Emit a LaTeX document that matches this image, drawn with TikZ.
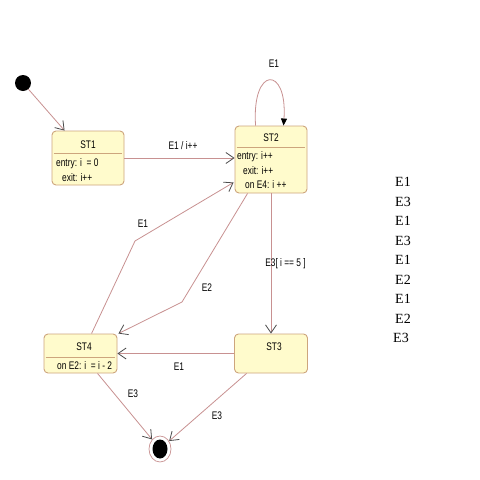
\documentclass[tikz,border=0pt]{standalone}
\usepackage{fontspec}
\setmainfont{Liberation Sans}[FakeStretch=0.76]
\newfontfamily\colfont{Liberation Serif}
\usetikzlibrary{arrows.meta,calc,shapes.geometric}
\definecolor{boxfill}{RGB}{255,251,204}
\definecolor{boxline}{RGB}{205,165,125}
\definecolor{linec}{RGB}{200,145,145}
\tikzset{
  statebox/.style={draw=boxline,fill=boxfill,rounded corners=4pt,line width=0.9pt,inner sep=0pt},
  tr/.style={draw=linec,line width=0.8pt,-{Straight Barb[length=8pt,width=11pt,line width=0.8pt,color=black!70]}},
  lbl/.style={font=\fontsize{11}{13}\selectfont,inner sep=0pt},
  txt/.style={font=\fontsize{11}{13}\selectfont,inner sep=0pt,anchor=west},
  col/.style={font=\colfont\fontsize{14}{16}\selectfont,inner sep=0pt,anchor=west}
}
\begin{document}
\begin{tikzpicture}[x=1pt,y=-1pt]
\useasboundingbox[fill=white] (0,0) rectangle (480,480);
% states
\node[statebox,minimum width=72pt,minimum height=54pt] (st1) at (88,158) {};
\node[statebox,minimum width=72pt,minimum height=67pt] (st2) at (271,159.5) {};
\node[statebox,minimum width=73pt,minimum height=39pt] (st3) at (271,353.5) {};
\node[statebox,minimum width=73pt,minimum height=39pt] (st4) at (80.5,353.5) {};
% dividers
\draw[boxline,line width=0.7pt] ($(st1.north west)+(2,23)$) -- ($(st1.north east)+(-2,23)$);
\draw[boxline,line width=0.7pt] ($(st2.north west)+(2,22)$) -- ($(st2.north east)+(-2,22)$);
\draw[boxline,line width=0.7pt] ($(st4.north west)+(2,24)$) -- ($(st4.north east)+(-2,24)$);
% texts
\node[lbl] (t1) at (88,145) {ST1};
\node[txt] (t1a) at (56,164) {entry: i \ = 0};
\node[txt] (t1b) at (62,178) {exit: i++};
\node[lbl] (t2) at (271,138) {ST2};
\node[txt] (t2a) at (237,157) {entry: i++};
\node[txt] (t2b) at (243,171) {exit: i++};
\node[txt] (t2c) at (245,185) {on E4: i ++};
\node[lbl] (t3) at (274,347) {ST3};
\node[lbl] (t4) at (84,347) {ST4};
\node[txt] (t4a) at (57,366) {on E2: i \ = i - 2};
% initial and final
\node[circle,fill=black,minimum size=16pt,inner sep=0pt] (init) at (23,83) {};
\node[ellipse,draw=linec,fill=white,line width=0.7pt,minimum width=22pt,minimum height=26pt,inner sep=0pt] (fin) at (160,449) {};
\fill[black] (fin.center) ellipse (7.5 and 9.5);
% bend points
\coordinate (b1) at (135,241);
\coordinate (b2) at (182,302);
% transitions
\draw[tr] (init) -- ($(st1.north west)+(13,0)$);
\draw[tr] (st1.east) -- (st1.east -| st2.west);
\draw[draw=linec,line width=0.8pt,-{Triangle[length=7pt,width=6pt,color=black]}] ($(st2.north west)+(21,0)$) .. controls ($(st2.north west)+(17,-60)$) and ($(st2.north west)+(53,-60)$) .. ($(st2.north west)+(49,0)$);
\draw[tr] (st2.south) -- (st3.north);
\draw[tr] (st3.west) -- (st4.east);
\draw[tr] ($(st4.north west)+(48,0)$) -- (b1) -- ($(st2.south west)+(-1,-11)$);
\draw[tr] ($(st2.south west)+(13,0)$) -- (b2) -- ($(st4.north east)+(1,0)$);
\draw[tr] ($(st4.south west)+(54,0)$) -- (fin);
\draw[tr] ($(st3.south west)+(12.5,0)$) -- (fin);
% labels
\node[lbl] (l1) at (274,64) {E1};
\node[lbl] (l2) at (183,146) {E1 / i++};
\node[lbl] (l3) at (285.5,264) {E3[ i == 5 ]};
\node[lbl] (l4) at (143,224) {E1};
\node[lbl] (l5) at (207,288) {E2};
\node[lbl] (l6) at (179,367) {E1};
\node[lbl] (l7) at (133,394) {E3};
\node[lbl] (l8) at (217,416) {E3};
% right column
\node[col] (c1) at (395,182) {E1};
\node[col] (c2) at (395,201.5) {E3};
\node[col] (c3) at (395,221) {E1};
\node[col] (c4) at (395,240.5) {E3};
\node[col] (c5) at (395,260) {E1};
\node[col] (c6) at (395,279.5) {E2};
\node[col] (c7) at (395,299) {E1};
\node[col] (c8) at (395,318.5) {E2};
\node[col] (c9) at (393,338) {E3};
\end{tikzpicture}
\end{document}
